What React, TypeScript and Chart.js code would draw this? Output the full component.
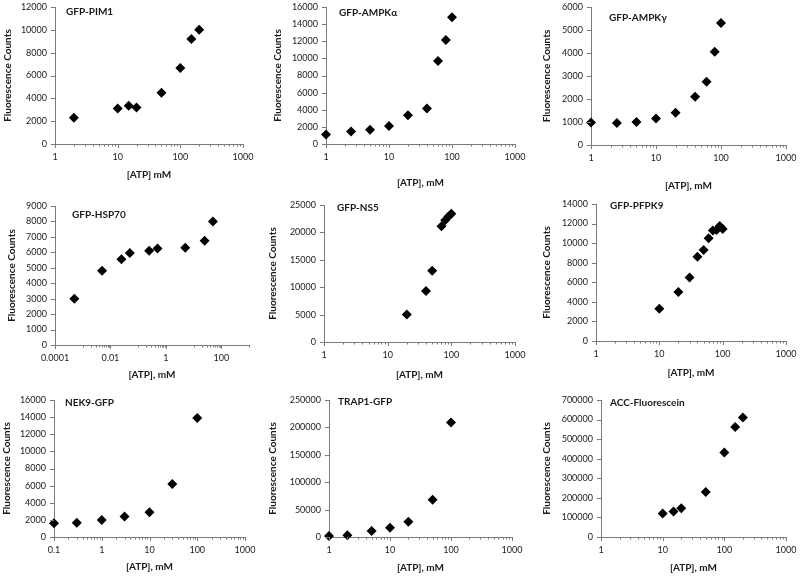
import React, { useEffect, useRef } from "react";
import { Chart, registerables } from "chart.js";

Chart.register(...registerables);

// ---------- data ----------
const pim1Atp = [2, 10, 15, 20, 50, 100, 150, 200];
const pim1Counts = [2300, 3100, 3350, 3200, 4500, 6650, 9200, 10000];

const ampkaAtp = [1, 2.5, 5, 10, 20, 40, 60, 80, 100];
const ampkaCounts = [1100, 1450, 1650, 2100, 3350, 4150, 9700, 12150, 14800];

const ampkgAtp = [1, 2.5, 5, 10, 20, 40, 60, 80, 100];
const ampkgCounts = [980, 960, 1000, 1150, 1400, 2100, 2750, 4050, 5300];

const hsp70Atp = [0.0005, 0.005, 0.025, 0.05, 0.25, 0.5, 5, 25, 50];
const hsp70Counts = [3000, 4800, 5550, 5950, 6100, 6250, 6300, 6750, 8000];

const ns5Atp = [20, 40, 50, 70, 80, 90, 100];
const ns5Counts = [5000, 9300, 13000, 21100, 22200, 22900, 23400];

const pfpk9Atp = [10, 20, 30, 40, 50, 60, 70, 80, 90, 100];
const pfpk9Counts = [3300, 5000, 6500, 8600, 9300, 10500, 11300, 11350, 11750, 11450];

const nek9Atp = [0.1, 0.3, 1, 3, 10, 30, 100];
const nek9Counts = [1600, 1650, 2000, 2400, 2900, 6200, 13900];

const trap1Atp = [1, 2, 5, 10, 20, 50, 100];
const trap1Counts = [2000, 3000, 11000, 17000, 28000, 68000, 209000];

const accAtp = [10, 15, 20, 50, 100, 150, 200];
const accCounts = [120000, 130000, 147000, 230000, 432000, 562000, 610000];

// tick labels
const decadeTicks = ["1", "10", "100", "1000"];
const hsp70Ticks = ["0.0001", "0.01", "1", "100"];
const nek9Ticks = ["0.1", "1", "10", "100", "1000"];

const yTitle = "Fluorescence Counts";
const xTitleA = "[ATP] mM";
const xTitleB = "[ATP], mM";

// ---------- styling ----------
const FONT = "Lato, 'Liberation Sans', Arial, sans-serif";
const TXT = "#1a1a1a";
const AXIS = "#7a7a7a";

type Panel = {
  label: string;
  xTitle: string;
  atp: number[];
  counts: number[];
  xTicks: string[];
  xMax: number;
  majorFactor: number;
  yMax: number;
  yStep: number;
  canvas: [number, number, number, number];
  plot: [number, number, number, number];
  yTitleX: number;
  xTitleY: number;
  labelDx: number;
  labelDy: number;
};

const panels: Panel[] = [
  { label: "GFP-PIM1", xTitle: xTitleA, atp: pim1Atp, counts: pim1Counts, xTicks: decadeTicks, xMax: 1000, majorFactor: 10, yMax: 12000, yStep: 2000,
    canvas: [0, 0, 270, 198], plot: [55, 7, 243, 144], yTitleX: 8, xTitleY: 175, labelDx: 11, labelDy: 5 },
  { label: "GFP-AMPKα", xTitle: xTitleB, atp: ampkaAtp, counts: ampkaCounts, xTicks: decadeTicks, xMax: 1000, majorFactor: 10, yMax: 16000, yStep: 2000,
    canvas: [265, 0, 270, 198], plot: [326, 7, 515, 144], yTitleX: 278, xTitleY: 183, labelDx: 13, labelDy: 6 },
  { label: "GFP-AMPKγ", xTitle: xTitleB, atp: ampkgAtp, counts: ampkgCounts, xTicks: decadeTicks, xMax: 1000, majorFactor: 10, yMax: 6000, yStep: 1000,
    canvas: [530, 0, 270, 198], plot: [591, 7, 786, 145], yTitleX: 547, xTitleY: 186, labelDx: 18, labelDy: 11 },
  { label: "GFP-HSP70", xTitle: xTitleB, atp: hsp70Atp, counts: hsp70Counts, xTicks: hsp70Ticks, xMax: 1000, majorFactor: 100, yMax: 9000, yStep: 1000,
    canvas: [0, 188, 270, 200], plot: [55, 206, 249, 345], yTitleX: 12, xTitleY: 375, labelDx: 17, labelDy: 9 },
  { label: "GFP-NS5", xTitle: xTitleB, atp: ns5Atp, counts: ns5Counts, xTicks: decadeTicks, xMax: 1000, majorFactor: 10, yMax: 25000, yStep: 5000,
    canvas: [265, 188, 270, 200], plot: [324, 205, 515, 342], yTitleX: 273, xTitleY: 375, labelDx: 13, labelDy: 3 },
  { label: "GFP-PFPK9", xTitle: xTitleB, atp: pfpk9Atp, counts: pfpk9Counts, xTicks: decadeTicks, xMax: 1000, majorFactor: 10, yMax: 14000, yStep: 2000,
    canvas: [530, 188, 270, 200], plot: [596, 204, 786, 341], yTitleX: 547, xTitleY: 373, labelDx: 14, labelDy: 2 },
  { label: "NEK9-GFP", xTitle: xTitleB, atp: nek9Atp, counts: nek9Counts, xTicks: nek9Ticks, xMax: 1000, majorFactor: 10, yMax: 16000, yStep: 2000,
    canvas: [0, 383, 270, 193], plot: [54, 400, 245, 537], yTitleX: 7, xTitleY: 567, labelDx: 11, labelDy: 3 },
  { label: "TRAP1-GFP", xTitle: xTitleB, atp: trap1Atp, counts: trap1Counts, xTicks: decadeTicks, xMax: 1000, majorFactor: 10, yMax: 250000, yStep: 50000,
    canvas: [265, 383, 270, 193], plot: [329, 400, 512, 537], yTitleX: 273, xTitleY: 568, labelDx: 9, labelDy: 2 },
  { label: "ACC-Fluorescein", xTitle: xTitleB, atp: accAtp, counts: accCounts, xTicks: decadeTicks, xMax: 1000, majorFactor: 10, yMax: 700000, yStep: 100000,
    canvas: [530, 383, 270, 193], plot: [601, 400, 786, 537], yTitleX: 547, xTitleY: 568, labelDx: 9, labelDy: 3 },
];

function PanelChart({ p }: { p: Panel }) {
  const ref = useRef<HTMLCanvasElement | null>(null);
  const [cx, cy, cw, ch] = p.canvas;

  useEffect(() => {
    if (!ref.current) return;
    const [pl, pt, pr, pb] = p.plot;
    const majors = p.xTicks.map(Number);
    const xMin = majors[0];
    const tickList: { value: number; major: boolean }[] = [];
    majors.forEach((M) => {
      tickList.push({ value: M, major: true });
      const e = Math.round(Math.log10(M)) + (p.majorFactor === 100 ? 1 : 0);
      for (let m = 1; m <= 9; m++) {
        const v = m * Math.pow(10, e);
        if (Math.abs(v - M) / M < 1e-9) continue;
        if (v > xMin && v <= p.xMax * 1.0001) tickList.push({ value: v, major: false });
      }
    });
    tickList.sort((a, b) => a.value - b.value);

    const titleLH = 12;
    const tickFont = { family: FONT, size: 9 };
    const titleFont = { family: FONT, size: 10, weight: "bold" as const };

    const deco = {
      id: "excelDeco",
      afterDraw(chart: any) {
        const ctx = chart.ctx;
        const xs = chart.scales.x;
        const ys = chart.scales.y;
        ctx.save();
        ctx.strokeStyle = AXIS;
        ctx.lineWidth = 1;
        ctx.beginPath();
        xs.ticks.forEach((t: any) => {
          const px = Math.round(xs.getPixelForValue(t.value)) + 0.5;
          const y0 = Math.round(xs.top);
          ctx.moveTo(px, y0);
          ctx.lineTo(px, y0 + (t.major ? 4 : 2.5));
        });
        ys.ticks.forEach((t: any) => {
          const py = Math.round(ys.getPixelForValue(t.value)) + 0.5;
          const x0 = Math.round(ys.right);
          ctx.moveTo(x0 - 4, py);
          ctx.lineTo(x0, py);
        });
        ctx.stroke();
        ctx.fillStyle = TXT;
        ctx.font = `bold 10px ${FONT}`;
        ctx.textAlign = "left";
        ctx.textBaseline = "middle";
        ctx.fillText(p.label, chart.chartArea.left + p.labelDx, chart.chartArea.top + p.labelDy);
        ctx.restore();
      },
    };

    const chart = new Chart(ref.current, {
      type: "scatter",
      data: {
        datasets: [
          {
            label: p.label,
            data: p.atp.map((x, i) => ({ x, y: p.counts[i] })),
            pointStyle: "rectRot",
            pointRadius: 5,
            pointHoverRadius: 5,
            backgroundColor: "#000",
            borderColor: "#000",
            borderWidth: 0,
            clip: false,
          },
        ],
      },
      options: {
        animation: false,
        responsive: false,
        events: [],
        layout: { padding: { left: 0, top: pt - cy, right: cx + cw - pr, bottom: 0 } },
        plugins: { legend: { display: false }, tooltip: { enabled: false }, title: { display: false } },
        scales: {
          x: {
            type: "logarithmic",
            min: xMin,
            max: p.xMax,
            afterBuildTicks: (s: any) => {
              s.ticks = tickList.map((t) => ({ value: t.value, major: t.major }));
            },
            afterFit: (s: any) => {
              s.height = cy + ch - pb;
              s.paddingLeft = 0;
              s.paddingRight = 0;
              s.paddingTop = 0;
              s.paddingBottom = 0;
            },
            grid: { display: false, drawTicks: false },
            border: { display: true, color: AXIS, width: 1 },
            ticks: {
              autoSkip: false,
              maxRotation: 0,
              minRotation: 0,
              padding: 8,
              color: TXT,
              font: tickFont,
              callback: (v: any, i: number, ticks: any[]) => {
                if (!ticks[i] || !ticks[i].major) return "";
                const idx = majors.findIndex((m) => Math.abs(m - Number(v)) / m < 1e-6);
                return idx >= 0 ? p.xTicks[idx] : "";
              },
            },
            title: {
              display: true,
              text: p.xTitle,
              color: TXT,
              font: titleFont,
              padding: { top: 0, bottom: cy + ch - p.xTitleY - titleLH / 2 },
            },
          },
          y: {
            type: "linear",
            min: 0,
            max: p.yMax,
            afterFit: (s: any) => {
              s.width = pl - cx;
              s.paddingLeft = 0;
              s.paddingRight = 0;
              s.paddingTop = 0;
              s.paddingBottom = 0;
            },
            grid: { display: false, drawTicks: false },
            border: { display: true, color: AXIS, width: 1 },
            ticks: {
              stepSize: p.yStep,
              padding: 8,
              color: TXT,
              font: tickFont,
              callback: (v: any) => String(v),
            },
            title: {
              display: true,
              text: yTitle,
              color: TXT,
              font: titleFont,
              padding: { top: p.yTitleX - cx - titleLH / 2, bottom: 0 },
            },
          },
        },
      } as any,
      plugins: [deco],
    });
    return () => chart.destroy();
  }, [p]);

  return (
    <canvas
      ref={ref}
      width={cw}
      height={ch}
      style={{ position: "absolute", left: cx, top: cy, width: cw, height: ch }}
    />
  );
}

export default function App() {
  return (
    <div
      style={{
        position: "absolute",
        left: 0,
        top: 0,
        width: 800,
        height: 576,
        background: "#fff",
        overflow: "hidden",
      }}
    >
      {panels.map((p) => (
        <PanelChart key={p.label} p={p} />
      ))}
    </div>
  );
}
